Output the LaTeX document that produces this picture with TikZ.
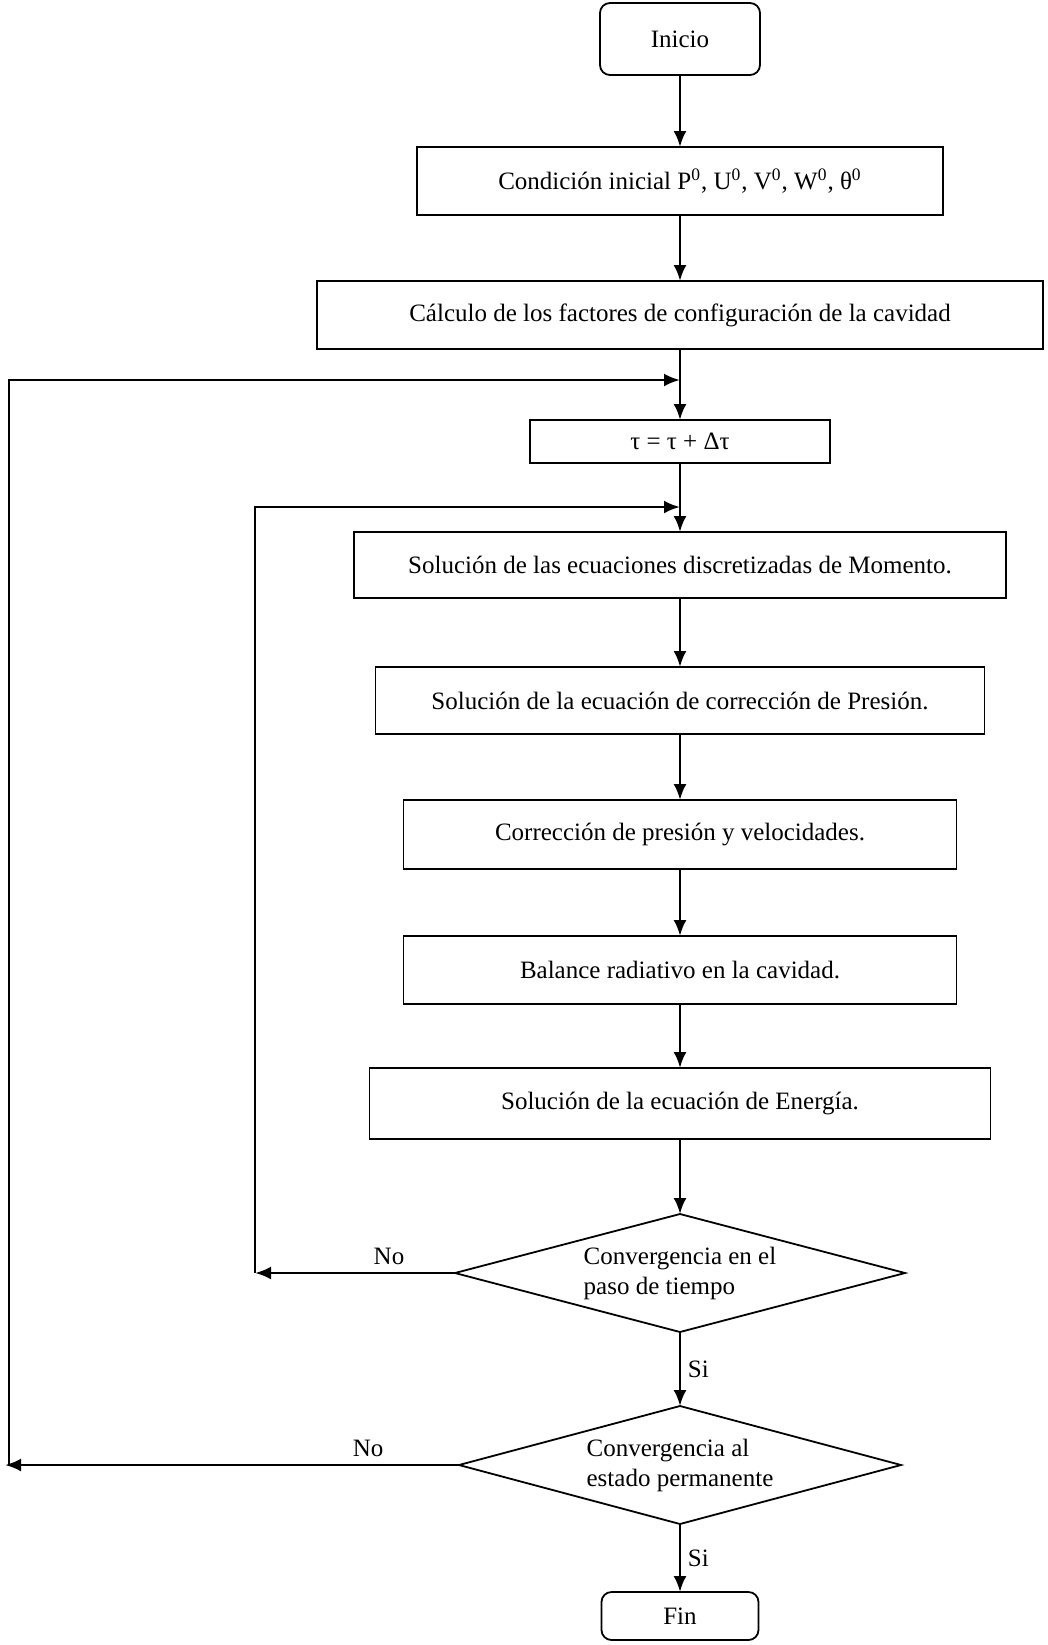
\documentclass[tikz,border=0pt]{standalone}
\usepackage{fontspec}
\setmainfont{Liberation Serif}
\usetikzlibrary{arrows.meta,positioning,shapes.geometric}

\begin{document}
\begin{tikzpicture}[x=0.5pt,y=-0.5pt,
  font=\fontsize{12.5}{15}\selectfont,
  proc/.style={draw,line width=0.9pt,inner sep=2pt,outer sep=0pt},
  term/.style={proc,rounded corners=5pt},
  decide/.style={draw,line width=0.9pt,diamond,aspect=3.8,inner sep=0pt,outer sep=0pt,align=left},
  flow/.style={line width=1.3pt,-{Latex[length=8pt,width=6.5pt]}}]
  \useasboundingbox (0,0) rectangle (1048,1645);
  \node[term,minimum width=80pt,minimum height=36pt] (ini) at (680,39) {Inicio};
  \node[proc,minimum width=263pt,minimum height=34pt,below=36pt of ini] (cond)
    {Condición inicial P\textsuperscript{0}, U\textsuperscript{0}, V\textsuperscript{0}, W\textsuperscript{0}, θ\textsuperscript{0}};
  \node[proc,minimum width=363pt,minimum height=34pt,below=33pt of cond] (calc)
    {Cálculo de los factores de configuración de la cavidad};
  \node[proc,minimum width=150pt,minimum height=21.5pt,below=35.5pt of calc] (tau) {τ = τ + Δτ};
  \node[proc,minimum width=326pt,minimum height=33pt,below=34.5pt of tau] (mom)
    {Solución de las ecuaciones discretizadas de Momento.};
  \node[proc,minimum width=304.5pt,minimum height=33.5pt,below=34.5pt of mom] (pres)
    {Solución de la ecuación de corrección de Presión.};
  \node[proc,minimum width=276.5pt,minimum height=34.5pt,below=33pt of pres] (corr)
    {Corrección de presión y velocidades.};
  \node[proc,minimum width=276.5pt,minimum height=34pt,below=33.5pt of corr] (bal)
    {Balance radiativo en la cavidad.};
  \node[proc,minimum width=310.5pt,minimum height=35.5pt,below=32pt of bal] (ener)
    {Solución de la ecuación de Energía.};
  \node[decide,minimum width=225pt,minimum height=59pt,below=37.5pt of ener] (conv1)
    {Convergencia en el\\paso de tiempo};
  \node[decide,minimum width=221pt,minimum height=59pt,below=37pt of conv1] (conv2)
    {Convergencia al\\estado permanente};
  \node[term,minimum width=78.5pt,minimum height=24pt,below=34pt of conv2] (fin) {Fin};

  % return points
  \coordinate (outedge) at (5,0);
  \coordinate (inedge) at (255,0);
  \coordinate (outL) at (conv2.west -| outedge);
  \coordinate (inL) at (conv1.west -| inedge);
  \path (tau.north) ++(0,-40) coordinate (j1);
  \path (mom.north) ++(0,-25) coordinate (j2);

  \draw[flow] (ini) -- (cond);
  \draw[flow] (cond) -- (calc);
  \draw[flow] (calc) -- (tau);
  \draw[flow] (tau) -- (mom);
  \draw[flow] (mom) -- (pres);
  \draw[flow] (pres) -- (corr);
  \draw[flow] (corr) -- (bal);
  \draw[flow] (bal) -- (ener);
  \draw[flow] (ener) -- (conv1);
  \draw[flow] (conv1) -- node[right]{Si} (conv2);
  \draw[flow] (conv2) -- node[right]{Si} (fin);

  \draw[flow] (conv1.west) -- node[pos=0.33,above]{No} (inL);
  \draw[flow] (inL) |- (j2);
  \draw[flow] (conv2.west) -- node[pos=0.2,above]{No} (outL);
  \draw[flow] ([xshift=2pt]outL) |- (j1);
\end{tikzpicture}
\end{document}
